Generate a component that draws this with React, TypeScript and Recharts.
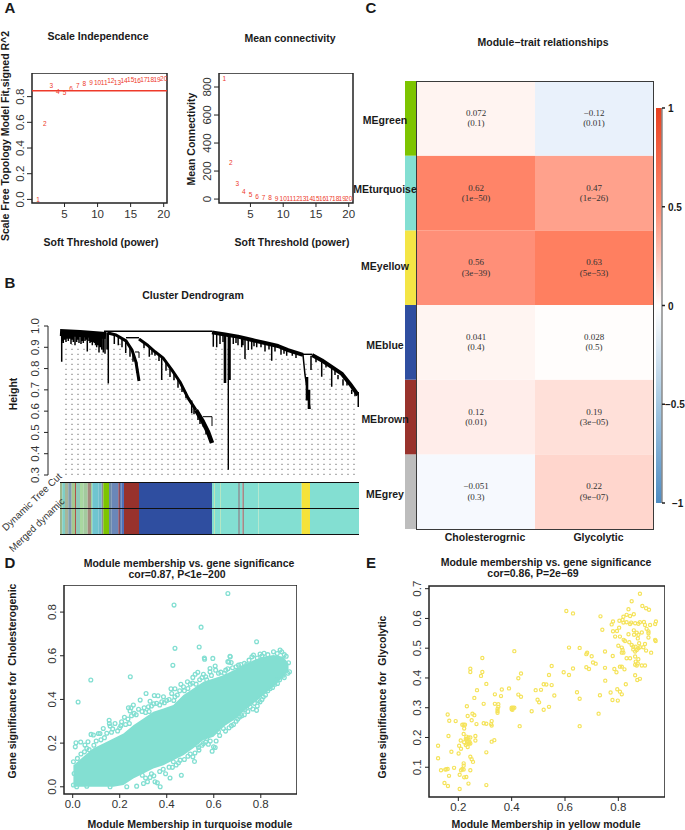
import React from "react";
import {
  Area,
  Bar,
  BarChart,
  ComposedChart,
  Line,
  ReferenceArea,
  ReferenceLine,
  Scatter,
  ScatterChart,
  XAxis,
  YAxis,
} from "recharts";

const SANS = '"Liberation Sans", Arial, sans-serif';
const SERIF = '"Liberation Serif", "Times New Roman", serif';
const RED = "#ee3a2a";
const TURQ = "#83dfd2";
const YELLOW = "#f5e35a";

// A: soft threshold
const powers = [1, 2, 3, 4, 5, 6, 7, 8, 9, 10, 11, 12, 13, 14, 15, 16, 17, 18, 19, 20];
const fitValues = [0.0, 0.59, 0.883, 0.842, 0.834, 0.862, 0.888, 0.901, 0.912, 0.909, 0.909, 0.922, 0.912, 0.925, 0.932, 0.922, 0.93, 0.932, 0.935, 0.943];
const connectivity = [862, 262, 110, 55, 31, 19, 12, 9, 7, 5, 5, 4, 4, 3, 3, 3, 2, 2, 2, 2];

// B: dendrogram, x is leaf rank along the tree, y is height
const guideRanks = [6, 12, 18, 24, 30, 36, 42, 48, 54, 60, 66, 72, 78, 84, 90, 96, 102, 108, 114, 120, 126, 132, 138, 144, 150, 156, 162, 168, 174, 180, 186, 192, 198, 204, 210, 216, 222, 228, 234, 240, 246, 252, 258, 264, 270, 276, 282, 288, 294];
const guideTops = [0.91, 0.915, 0.91, 0.91, 0.91, 0.905, 0.9, 0.9, 0.91, 0.92, 0.9, 0.85, 0.8, 0.89, 0.87, 0.855, 0.83, 0.8, 0.765, 0.72, 0.67, 0.625, 0.58, 0.51, 0.44, 0.91, 0.91, 0.91, 0.9, 0.89, 0.89, 0.885, 0.885, 0.875, 0.875, 0.86, 0.855, 0.85, 0.84, 0.83, 0.83, 0.825, 0.815, 0.8, 0.77, 0.745, 0.72, 0.69, 0.65];

const topBar = [{ rank: 44, h: 0.975 }, { rank: 152, h: 0.975 }];
const leftBand = [{ rank: 0, h: 0.97 }, { rank: 20, h: 0.965 }, { rank: 46, h: 0.955 }];
const midBranch = [{ rank: 48, h: 0.967 }, { rank: 56, h: 0.958 }, { rank: 66, h: 0.93 }, { rank: 72, h: 0.887 }, { rank: 76, h: 0.83 }, { rank: 79, h: 0.742 }];
const midBracket = [{ rank: 66, h: 0.945 }, { rank: 79, h: 0.945 }];
const smallBracket = [{ rank: 75, h: 0.878 }, { rank: 79, h: 0.878 }, { rank: 79, h: 0.85 }];
const longBranch = [{ rank: 79, h: 0.939 }, { rank: 88, h: 0.908 }, { rank: 95, h: 0.879 }, { rank: 103, h: 0.85 }, { rank: 112, h: 0.793 }, { rank: 120, h: 0.737 }, { rank: 128, h: 0.662 }, { rank: 136, h: 0.605 }];
const longBranchEnd = [{ rank: 136, h: 0.605 }, { rank: 142, h: 0.558 }, { rank: 148, h: 0.502 }, { rank: 152, h: 0.45 }];
const endBracket = [{ rank: 143, h: 0.574 }, { rank: 152, h: 0.574 }, { rank: 152, h: 0.53 }];
const rightBranch = [{ rank: 152, h: 0.97 }, { rank: 165, h: 0.96 }, { rank: 178, h: 0.95 }, { rank: 192, h: 0.934 }, { rank: 205, h: 0.92 }, { rank: 218, h: 0.906 }, { rank: 228, h: 0.887 }, { rank: 243, h: 0.864 }];
const rightBracket = [{ rank: 243, h: 0.867 }, { rank: 252, h: 0.867 }];
const rightDrop = [{ rank: 243, h: 0.864 }, { rank: 245, h: 0.77 }, { rank: 248, h: 0.68 }, { rank: 250, h: 0.61 }];
const tailBranch = [{ rank: 252, h: 0.864 }, { rank: 262, h: 0.838 }, { rank: 272, h: 0.807 }, { rank: 282, h: 0.775 }, { rank: 290, h: 0.728 }, { rank: 298, h: 0.676 }];
const tailDrop = [{ rank: 298.5, h: 0.69 }, { rank: 298.5, h: 0.62 }];
const longLeaf = [{ rank: 168.3, h: 0.96 }, { rank: 168.3, h: 0.325 }];

const leafRanks = [1.7, 2.5, 3.3, 4.5, 6, 7, 8.3, 9.5, 11, 12, 13.3, 15, 16.7, 18, 19, 21, 22, 23.3, 25, 26, 27.3, 29, 30, 31, 32.3, 33, 34.3, 35.5, 36.7, 38, 39, 40.5, 41.7, 43.3, 45, 47, 48.3, 54.3, 58.3, 62, 65.7, 70, 73, 76.7, 89.3, 95, 101.7, 110, 118, 131.7, 138, 143.3, 146, 149, 153.3, 156.7, 160, 173.3, 178, 181.7, 185, 188.3, 191.7, 196.7, 205, 211.7, 221, 226.7, 232.3, 251, 261.7, 271.7, 278, 283, 291.7, 84, 92, 99, 106, 114, 122, 126, 134, 140, 163, 176, 183, 194, 201, 209, 215, 224, 236, 256, 266, 275, 287, 295];
const leafTops = [0.97, 0.97, 0.97, 0.97, 0.97, 0.97, 0.97, 0.97, 0.97, 0.97, 0.97, 0.97, 0.97, 0.97, 0.97, 0.97, 0.97, 0.97, 0.97, 0.97, 0.97, 0.97, 0.97, 0.97, 0.97, 0.97, 0.97, 0.97, 0.97, 0.97, 0.97, 0.97, 0.97, 0.97, 0.97, 0.97, 0.975, 0.96, 0.95, 0.94, 0.93, 0.9, 0.87, 0.83, 0.9, 0.88, 0.85, 0.8, 0.75, 0.65, 0.6, 0.56, 0.53, 0.5, 0.97, 0.97, 0.965, 0.955, 0.95, 0.945, 0.94, 0.935, 0.935, 0.93, 0.92, 0.915, 0.9, 0.89, 0.88, 0.86, 0.84, 0.8, 0.77, 0.75, 0.7, 0.92, 0.89, 0.865, 0.83, 0.78, 0.72, 0.69, 0.62, 0.575, 0.965, 0.955, 0.945, 0.935, 0.925, 0.92, 0.91, 0.9, 0.875, 0.855, 0.83, 0.8, 0.75, 0.7];
const leafBottoms = [0.832, 0.93, 0.92, 0.935, 0.925, 0.94, 0.93, 0.94, 0.915, 0.935, 0.925, 0.91, 0.925, 0.935, 0.92, 0.915, 0.93, 0.92, 0.93, 0.935, 0.88, 0.93, 0.92, 0.925, 0.91, 0.925, 0.92, 0.91, 0.9, 0.91, 0.875, 0.9, 0.89, 0.875, 0.87, 0.89, 0.73, 0.915, 0.91, 0.9, 0.873, 0.856, 0.832, 0.78, 0.856, 0.86, 0.746, 0.76, 0.71, 0.59, 0.558, 0.527, 0.49, 0.47, 0.903, 0.9, 0.915, 0.915, 0.91, 0.9, 0.845, 0.887, 0.89, 0.9, 0.88, 0.837, 0.865, 0.86, 0.86, 0.793, 0.762, 0.715, 0.75, 0.72, 0.68, 0.895, 0.865, 0.835, 0.79, 0.745, 0.69, 0.66, 0.585, 0.54, 0.925, 0.92, 0.91, 0.905, 0.9, 0.89, 0.88, 0.87, 0.85, 0.83, 0.805, 0.77, 0.72, 0.67];
const thickLeafRanks = [165, 169.5, 247, 249];
const thickLeafTops = [0.96, 0.955, 0.76, 0.7];
const thickLeafBottoms = [0.732, 0.746, 0.65, 0.61];

// B: module colour strip, width of each stretch along the leaf order
const stripWidths = [2.3, 2.7, 3.3, 3.4, 3.3, 1, 4, 3.3, 4.4, 3.3, 1.3, 6, 3.4, 1.6, 5.7, 2.7, 6.6, 1.7, 1.7, 2.3, 15, 73, 2.3, 0.7, 5, 0.7, 17.3, 2, 2.3, 1.7, 14.3, 0.4, 43, 8.3, 49];
const stripColors = ["#9db88e", "#7fcfc5", "#a7b59a", "#7f9db0", "#a5c98d", "#b0504a", "#8fcab8", "#a9d7a0", "#a3ca9e", "#a68a7f", "#9fd3a0", "#6fc5cf", "#6fbccb", "#8d8d8d", "#7dc400", "#6e8ba6", "#6a87b8", "#8c4d5f", "#5f7fb4", "#4e6fb8", "#98322c", "#2f4ea0", "#83dfd2", "#b4de9f", "#83dfd2", "#b4de9f", "#83dfd2", "#8aa5a5", "#83dfd2", "#a08a88", "#83dfd2", "#b4de9f", "#83dfd2", "#f5e23a", "#83dfd2"];
const stripRows = ["Dynamic Tree Cut", "Merged dynamic"];

// C: module-trait table, top row first
const modules = ["MEgreen", "MEturquoise", "MEyellow", "MEblue", "MEbrown", "MEgrey"];
const moduleColors = ["#7dc400", "#83dfd2", "#f4e545", "#2f4ea0", "#98322c", "#bdbdbd"];
const traits = ["Cholesterogrnic", "Glycolytic"];
const cholCor = ["0.072", "0.62", "0.56", "0.041", "0.12", "\u22120.051"];
const cholP = ["(0.1)", "(1e\u221250)", "(3e\u221239)", "(0.4)", "(0.01)", "(0.3)"];
const cholFill = ["#fff4f1", "#ff8468", "#ff8f78", "#fff5f2", "#ffedea", "#f6f9fe"];
const glycCor = ["\u22120.12", "0.47", "0.63", "0.028", "0.19", "0.22"];
const glycP = ["(0.01)", "(1e\u221226)", "(5e\u221253)", "(0.5)", "(3e\u221205)", "(9e\u221207)"];
const glycFill = ["#e9f1fb", "#ffa18c", "#ff7f60", "#fffdfc", "#ffe0d9", "#ffd6cd"];
const colorbarTicks = [-1, -0.5, 0, 0.5, 1];

// D: dense core of the cloud (lower and upper edge) and the points that stand clear of it
const coreX = [0.003, 0.045, 0.088, 0.13, 0.173, 0.216, 0.258, 0.301, 0.343, 0.386, 0.428, 0.471, 0.513, 0.556, 0.599, 0.641, 0.684, 0.726, 0.769, 0.811, 0.854, 0.896, 0.918];
const coreLow = [0, 0, 0, 0, 0, 0.008, 0.038, 0.061, 0.084, 0.099, 0.122, 0.145, 0.176, 0.214, 0.229, 0.275, 0.305, 0.344, 0.382, 0.42, 0.458, 0.504, 0.534];
const coreHigh = [0.099, 0.137, 0.176, 0.198, 0.221, 0.244, 0.282, 0.313, 0.344, 0.359, 0.374, 0.42, 0.45, 0.481, 0.496, 0.511, 0.534, 0.557, 0.58, 0.595, 0.603, 0.595, 0.565];
const turquoisePoints = [
  [0.66, 0.885], [0.431, 0.832], [0.546, 0.731], [0.782, 0.664], [0.435, 0.634], [0.538, 0.64], [0.426, 0.556], [0.077, 0.489], [0.245, 0.504], [0.023, 0.388], [0.56, 0.59], [0.561, 0.584], [0.596, 0.588], [0.67, 0.595], [0.664, 0.571],
  [0.011, 0.183], [0.014, 0.202], [0.034, 0.205], [0.052, 0.191], [0.065, 0.206], [0.078, 0.24], [0.088, 0.237], [0.06, 0.176], [0.109, 0.244], [0.116, 0.244], [0.13, 0.267], [0.155, 0.305], [0.156, 0.29], [0.159, 0.278], [0.18, 0.29], [0.191, 0.256], [0.208, 0.298], [0.22, 0.318], [0.241, 0.29], [0.237, 0.362], [0.248, 0.362], [0.244, 0.347], [0.258, 0.374], [0.261, 0.336], [0.287, 0.397], [0.304, 0.362], [0.322, 0.366], [0.329, 0.392], [0.312, 0.427], [0.347, 0.418], [0.363, 0.417], [0.357, 0.382], [0.386, 0.412], [0.379, 0.389], [0.418, 0.449], [0.435, 0.449], [0.421, 0.427], [0.435, 0.412], [0.46, 0.469], [0.488, 0.481], [0.471, 0.458], [0.511, 0.501], [0.521, 0.515], [0.532, 0.524], [0.556, 0.515], [0.566, 0.504], [0.584, 0.542], [0.606, 0.553], [0.608, 0.534], [0.584, 0.527], [0.651, 0.534], [0.66, 0.573], [0.674, 0.569], [0.669, 0.598], [0.705, 0.557], [0.74, 0.56], [0.762, 0.595], [0.769, 0.603], [0.797, 0.608], [0.814, 0.611], [0.854, 0.618], [0.882, 0.626], [0.889, 0.618], [0.908, 0.598], [0.918, 0.568], [0.922, 0.527],
  [0.003, 0.008], [0.006, 0.061], [0.003, 0.115], [0.017, 0.0], [0.06, 0.003], [0.159, 0.0], [0.23, 0.0], [0.272, 0.003], [0.301, 0.015], [0.296, 0.053], [0.329, 0.043], [0.318, 0.023], [0.35, 0.023], [0.36, 0.018], [0.372, 0.0], [0.414, 0.04], [0.462, 0.053], [0.424, 0.089], [0.428, 0.115], [0.518, 0.116], [0.511, 0.137], [0.457, 0.122], [0.537, 0.168], [0.53, 0.191], [0.556, 0.198], [0.577, 0.195], [0.599, 0.183], [0.606, 0.18], [0.593, 0.163], [0.57, 0.221], [0.62, 0.252], [0.641, 0.267], [0.684, 0.285], [0.702, 0.31], [0.719, 0.325], [0.733, 0.354], [0.766, 0.356], [0.782, 0.35], [0.773, 0.382], [0.797, 0.389], [0.811, 0.412], [0.84, 0.45], [0.871, 0.473], [0.868, 0.489], [0.896, 0.511],
  [0.02, 0.13], [0.035, 0.15], [0.05, 0.16], [0.07, 0.17], [0.09, 0.19], [0.1, 0.21], [0.12, 0.215], [0.135, 0.225], [0.145, 0.245], [0.165, 0.25], [0.17, 0.265], [0.2, 0.27], [0.205, 0.28], [0.225, 0.285], [0.235, 0.31], [0.25, 0.325], [0.27, 0.33], [0.28, 0.355], [0.295, 0.345], [0.31, 0.34], [0.325, 0.345], [0.335, 0.37], [0.345, 0.38], [0.37, 0.375], [0.39, 0.385], [0.4, 0.395], [0.41, 0.4], [0.43, 0.395], [0.445, 0.42], [0.455, 0.44], [0.475, 0.44], [0.49, 0.45], [0.5, 0.47], [0.51, 0.475], [0.525, 0.47], [0.54, 0.49], [0.55, 0.5], [0.57, 0.49], [0.59, 0.51], [0.62, 0.52], [0.63, 0.525], [0.645, 0.52], [0.66, 0.54], [0.68, 0.545], [0.695, 0.55], [0.715, 0.56], [0.73, 0.565], [0.75, 0.58], [0.785, 0.59], [0.805, 0.6], [0.83, 0.605], [0.87, 0.61], [0.9, 0.605],
  [0.31, 0.04], [0.335, 0.06], [0.345, 0.05], [0.37, 0.07], [0.385, 0.08], [0.395, 0.06], [0.41, 0.09], [0.44, 0.1], [0.45, 0.11], [0.475, 0.125], [0.49, 0.14], [0.5, 0.15], [0.52, 0.155], [0.535, 0.18], [0.55, 0.19], [0.565, 0.205], [0.585, 0.21], [0.61, 0.21], [0.625, 0.235], [0.65, 0.255], [0.665, 0.27], [0.675, 0.28], [0.695, 0.3], [0.71, 0.32], [0.73, 0.33], [0.745, 0.345], [0.755, 0.365], [0.785, 0.37], [0.79, 0.395], [0.805, 0.4], [0.82, 0.42], [0.83, 0.44], [0.85, 0.455], [0.86, 0.47], [0.88, 0.49], [0.9, 0.5], [0.915, 0.52],
];

// E: yellow module genes
const yellowPoints = [
  [0.124, 0.172], [0.124, 0.13], [0.135, 0.09], [0.151, 0.092], [0.155, 0.093], [0.16, 0.094], [0.148, 0.047], [0.161, 0.037], [0.165, 0.071], [0.184, 0.098], [0.205, 0.075], [0.21, 0.09], [0.215, 0.094], [0.22, 0.092], [0.22, 0.105], [0.22, 0.113], [0.222, 0.066], [0.23, 0.067], [0.238, 0.045], [0.205, 0.027], [0.305, 0.04], [0.245, 0.09], [0.245, 0.135], [0.25, 0.127], [0.255, 0.118],
  [0.174, 0.152], [0.201, 0.146], [0.203, 0.172], [0.21, 0.162], [0.209, 0.19], [0.163, 0.205], [0.16, 0.277], [0.166, 0.256], [0.19, 0.255], [0.215, 0.243], [0.22, 0.243], [0.225, 0.243], [0.222, 0.23], [0.22, 0.212], [0.222, 0.184], [0.23, 0.203], [0.232, 0.195], [0.235, 0.188], [0.238, 0.2], [0.24, 0.18], [0.228, 0.195], [0.235, 0.168], [0.242, 0.185], [0.245, 0.2], [0.245, 0.18], [0.232, 0.18], [0.228, 0.175], [0.264, 0.205], [0.264, 0.19], [0.235, 0.272], [0.25, 0.258], [0.253, 0.28], [0.26, 0.275], [0.268, 0.245], [0.232, 0.305], [0.26, 0.333], [0.27, 0.359], [0.295, 0.313], [0.295, 0.248], [0.305, 0.246], [0.323, 0.245], [0.325, 0.24], [0.325, 0.255], [0.305, 0.15], [0.325, 0.186], [0.335, 0.191], [0.285, 0.407], [0.29, 0.42], [0.245, 0.431], [0.245, 0.42], [0.29, 0.467], [0.305, 0.38],
  [0.337, 0.345], [0.337, 0.313], [0.35, 0.312], [0.35, 0.303], [0.347, 0.296], [0.347, 0.289], [0.347, 0.283], [0.36, 0.339], [0.363, 0.361], [0.39, 0.365], [0.4, 0.295], [0.4, 0.3], [0.405, 0.3], [0.41, 0.3], [0.403, 0.293], [0.425, 0.399], [0.435, 0.415], [0.425, 0.344], [0.435, 0.337], [0.43, 0.238], [0.41, 0.49], [0.475, 0.288], [0.49, 0.359], [0.497, 0.327], [0.503, 0.318], [0.51, 0.36], [0.52, 0.293], [0.52, 0.379], [0.53, 0.378], [0.54, 0.303], [0.54, 0.41], [0.55, 0.376], [0.55, 0.44], [0.56, 0.341], [0.595, 0.419], [0.615, 0.41], [0.63, 0.432], [0.605, 0.625], [0.63, 0.617], [0.615, 0.502], [0.655, 0.501], [0.655, 0.238], [0.645, 0.352], [0.655, 0.33], [0.68, 0.436], [0.69, 0.43], [0.68, 0.48], [0.683, 0.485], [0.7, 0.473], [0.705, 0.452], [0.715, 0.448],
  [0.881, 0.683], [0.85, 0.658], [0.89, 0.642], [0.904, 0.634], [0.915, 0.629], [0.838, 0.631], [0.831, 0.612], [0.858, 0.614], [0.844, 0.608], [0.819, 0.606], [0.816, 0.595], [0.804, 0.592], [0.819, 0.586], [0.831, 0.587], [0.848, 0.586], [0.863, 0.584], [0.875, 0.582], [0.881, 0.587], [0.896, 0.588], [0.9, 0.578], [0.906, 0.565], [0.919, 0.578], [0.938, 0.581], [0.941, 0.59], [0.844, 0.581], [0.803, 0.569], [0.858, 0.56], [0.869, 0.552], [0.888, 0.553], [0.913, 0.556], [0.913, 0.55], [0.859, 0.545], [0.875, 0.545], [0.838, 0.547], [0.806, 0.539], [0.788, 0.539], [0.873, 0.533], [0.82, 0.528], [0.825, 0.524], [0.841, 0.52], [0.878, 0.517], [0.9, 0.514], [0.938, 0.528], [0.94, 0.524], [0.913, 0.536], [0.894, 0.503], [0.881, 0.503], [0.85, 0.511], [0.856, 0.505], [0.865, 0.505], [0.8, 0.508], [0.813, 0.502], [0.816, 0.494], [0.813, 0.485], [0.819, 0.485], [0.904, 0.492], [0.923, 0.485], [0.869, 0.494], [0.875, 0.5], [0.863, 0.489], [0.856, 0.496], [0.779, 0.474], [0.75, 0.489], [0.831, 0.466], [0.844, 0.466], [0.863, 0.472], [0.875, 0.463], [0.865, 0.455], [0.873, 0.449], [0.863, 0.444], [0.869, 0.442], [0.888, 0.442], [0.9, 0.442], [0.806, 0.438], [0.813, 0.438], [0.823, 0.429], [0.785, 0.43], [0.793, 0.419], [0.75, 0.434], [0.751, 0.391], [0.863, 0.409], [0.871, 0.393], [0.881, 0.397], [0.828, 0.379], [0.796, 0.362], [0.806, 0.354], [0.813, 0.345], [0.771, 0.351], [0.778, 0.326], [0.798, 0.324], [0.731, 0.342], [0.726, 0.28], [0.733, 0.607], [0.74, 0.562], [0.775, 0.58], [0.78, 0.59], [0.78, 0.557], [0.795, 0.558],
];

const asPoints = (pairs: number[][]) => pairs.map(([x, y]) => ({ x, y }));
// vertical stubs joined into one series, a null height breaks the line
const stubSeries = (ranks: number[], tops: number[], bottoms: number[]) =>
  ranks.flatMap((rank, i) => [
    { rank, h: tops[i] },
    { rank, h: bottoms[i] },
    { rank, h: null },
  ]);

const Txt = ({ x, y, size = 10.5, weight = 700, rotate = 0, color = "#1a1a1a", children }: any) => (
  <div
    style={{
      position: "absolute",
      left: x,
      top: y,
      transform: `translate(-50%, -50%) rotate(${rotate}deg)`,
      whiteSpace: "pre",
      fontFamily: SANS,
      fontSize: size,
      fontWeight: weight,
      color,
      lineHeight: 1,
      zIndex: 6,
    }}
  >
    {children}
  </div>
);

const Panel = ({ x, y, z, children }: any) => (
  <div style={{ position: "absolute", left: x, top: y, zIndex: z }}>{children}</div>
);

const Rule = ({ x, y, w }: any) => (
  <div style={{ position: "absolute", left: x, top: y, width: w, height: 1.5, background: "#111", zIndex: 3 }} />
);

const RotTick = ({ x, y, payload, fmt }: any) => (
  <text
    x={x}
    y={y}
    transform={`rotate(-90 ${x} ${y})`}
    textAnchor="middle"
    fontFamily={SANS}
    fontSize={11.5}
    fill="#333"
  >
    {fmt ? fmt(payload.value) : payload.value}
  </text>
);

const tickStyle = { fontFamily: SANS, fontSize: 11.5, fill: "#333" };
const axisLineStyle = { stroke: "#222", strokeWidth: 1 };
const oneDec = (v: number) => v.toFixed(1);

const PowerLabel = ({ cx, cy, payload }: any) => (
  <text x={cx} y={cy + 2.5} textAnchor="middle" fontFamily={SANS} fontSize={6.5} fill={RED}>
    {payload.power}
  </text>
);

const Ring = (color: string, r: number, w: number) => ({ cx, cy }: any) => (
  <circle cx={cx} cy={cy} r={r} fill="none" stroke={color} strokeWidth={w} />
);

const fitData = powers.map((power, i) => ({ power, value: fitValues[i] }));
const connData = powers.map((power, i) => ({ power, value: connectivity[i] }));

const SoftChart = ({ width, data, yDomain, yTicks, fmt, xDomain, children }: any) => (
  <ScatterChart width={width} height={160} margin={{ top: 0, right: 12, bottom: 0, left: 0 }}>
    <XAxis dataKey="power" type="number" domain={xDomain} ticks={[5, 10, 15, 20]} interval={0} allowDataOverflow height={30} axisLine={false} tick={tickStyle} tickLine={axisLineStyle} tickSize={4} tickMargin={3} />
    <YAxis dataKey="value" type="number" domain={yDomain} ticks={yTicks} interval={0} allowDataOverflow width={32} axisLine={false} tick={<RotTick fmt={fmt} />} tickLine={axisLineStyle} tickSize={5} tickMargin={3} />
    <ReferenceArea x1={xDomain[0]} x2={xDomain[1]} y1={yDomain[0]} y2={yDomain[1]} fill="none" stroke="#222" strokeWidth={1.5} />
    {children}
    <Scatter data={data} isAnimationActive={false} shape={PowerLabel} />
  </ScatterChart>
);

const DendroLine = (points: any[], w: number, key: string) => (
  <Line
    key={key}
    data={points}
    dataKey="h"
    type="linear"
    stroke="#000"
    strokeWidth={w}
    dot={false}
    activeDot={false}
    isAnimationActive={false}
    strokeLinejoin="round"
  />
);

const Dendrogram = () => (
  <ComposedChart width={359} height={165} margin={{ top: 8, right: 0, bottom: 8, left: 0 }}>
    <XAxis dataKey="rank" type="number" domain={[-12, 299]} hide allowDataOverflow />
    <YAxis dataKey="h" type="number" domain={[0.3, 1]} ticks={[0.3, 0.4, 0.5, 0.6, 0.7, 0.8, 0.9, 1]} interval={0} allowDataOverflow width={48} axisLine={axisLineStyle} tick={<RotTick fmt={oneDec} />} tickLine={axisLineStyle} tickSize={4} tickMargin={5} />
    {guideRanks.map((rank, i) => (
      <ReferenceLine
        key={rank}
        segment={[{ x: rank, y: 0.3 }, { x: rank, y: guideTops[i] }]}
        stroke="#777"
        strokeWidth={1.1}
        strokeDasharray="1.2 3.8"
      />
    ))}
    {DendroLine(topBar, 1.6, "top")}
    {DendroLine(leftBand, 7, "left")}
    {DendroLine(midBranch, 3, "mid")}
    {DendroLine(midBracket, 1.4, "midb")}
    {DendroLine(smallBracket, 1, "smallb")}
    {DendroLine(longBranch, 3, "long")}
    {DendroLine(longBranchEnd, 4.5, "longend")}
    {DendroLine(endBracket, 1, "endb")}
    {DendroLine(rightBranch, 4, "right")}
    {DendroLine(rightBracket, 1.4, "rightb")}
    {DendroLine(rightDrop, 1.5, "rightd")}
    {DendroLine(tailBranch, 4, "tail")}
    {DendroLine(tailDrop, 2, "taild")}
    {DendroLine(longLeaf, 1.4, "longleaf")}
    {DendroLine(stubSeries(leafRanks, leafTops, leafBottoms), 1.5, "leaves")}
    {DendroLine(stubSeries(thickLeafRanks, thickLeafTops, thickLeafBottoms), 2.6, "thick")}
  </ComposedChart>
);

const stripData = stripRows.map((row) => {
  const out: any = { row };
  stripWidths.forEach((w, i) => {
    out[`s${i}`] = w;
  });
  return out;
});

const ColourStrip = () => (
  <BarChart layout="vertical" width={299} height={52} data={stripData} barCategoryGap={0} margin={{ top: 0, right: 0, bottom: 0, left: 0 }}>
    <XAxis type="number" domain={[0, 299]} hide allowDataOverflow />
    <YAxis type="category" dataKey="row" hide />
    {stripWidths.map((_, i) => (
      <Bar key={i} dataKey={`s${i}`} stackId="m" fill={stripColors[i]} isAnimationActive={false} />
    ))}
  </BarChart>
);

// stack runs bottom-up, so the last module goes first
const stackOrder = [5, 4, 3, 2, 1, 0];
const heatData = traits.map((trait) => {
  const out: any = { trait };
  modules.forEach((m) => {
    out[m] = 1;
  });
  return out;
});

const cellText = (mod: number) => (props: any) => {
  const { x, y, width, height, index } = props;
  const cor = index === 0 ? cholCor[mod] : glycCor[mod];
  const p = index === 0 ? cholP[mod] : glycP[mod];
  const cx = x + width / 2;
  const cy = y + height / 2;
  return (
    <g>
      <rect x={x} y={y} width={width} height={height} fill={index === 0 ? cholFill[mod] : glycFill[mod]} />
      <text x={cx} y={cy - 2.5} textAnchor="middle" fontFamily={SERIF} fontSize={9} fill="#333">{cor}</text>
      <text x={cx} y={cy + 8} textAnchor="middle" fontFamily={SERIF} fontSize={9} fill="#333">{p}</text>
    </g>
  );
};

const TraitTick = ({ x, y, payload, index }: any) => (
  <text x={x + (index === 0 ? 9 : 4.5)} y={y + 4} textAnchor="middle" fontFamily={SANS} fontSize={10.5} fontWeight={700} fill="#1a1a1a">
    {payload.value}
  </text>
);

const Heatmap = () => (
  <BarChart width={236} height={468} data={heatData} barCategoryGap={0} margin={{ top: 0, right: 0, bottom: 0, left: 0 }}>
    <XAxis dataKey="trait" height={20} axisLine={false} tickLine={false} tick={<TraitTick />} interval={0} />
    <YAxis type="number" domain={[0, 6]} hide allowDataOverflow />
    {stackOrder.map((mod) => (
      <Bar key={modules[mod]} dataKey={modules[mod]} stackId="t" isAnimationActive={false} shape={cellText(mod)} />
    ))}
  </BarChart>
);

const moduleBar = [{ strip: "module", ...Object.fromEntries(modules.map((m) => [m, 1])) }];
const moduleLabelNudge = [2, -4, -2, 3, 2, 2.5];

const ModuleTick = ({ y, payload }: any) => {
  const idx = 5 - Math.floor(payload.value);
  return (
    <text x={39} y={y + 4 + moduleLabelNudge[idx]} textAnchor="middle" fontFamily={SANS} fontSize={10.5} fontWeight={700} fill="#1a1a1a">
      {modules[idx]}
    </text>
  );
};

const ModuleStrip = () => (
  <BarChart width={80} height={448} data={moduleBar} barCategoryGap={0} margin={{ top: 0, right: 10, bottom: 0, left: 0 }}>
    <XAxis dataKey="strip" hide />
    <YAxis type="number" domain={[0, 6]} ticks={[0.5, 1.5, 2.5, 3.5, 4.5, 5.5]} width={59} axisLine={false} tickLine={false} tick={<ModuleTick />} interval={0} />
    {stackOrder.map((mod) => (
      <Bar key={modules[mod]} dataKey={modules[mod]} stackId="m" fill={moduleColors[mod]} isAnimationActive={false} />
    ))}
  </BarChart>
);

const barTickNudge = (v: number) => (v === -0.5 ? -3 : v === -1 ? 4 : 0);

const ColorBarTick = ({ x, y, payload }: any) => (
  <text x={x + barTickNudge(payload.value)} y={y + 4} textAnchor="start" fontFamily={SANS} fontSize={10} fontWeight={700} fill="#1a1a1a">
    {payload.value < 0 ? `\u2212${Math.abs(payload.value)}` : payload.value}
  </text>
);

const ColorBar = () => (
  <BarChart width={45} height={411} data={[{ name: "r", range: [-1, 1] }]} barCategoryGap={0} margin={{ top: 8, right: 0, bottom: 8, left: 0 }}>
    <defs>
      <linearGradient id="corrGrad" x1="0" y1="0" x2="0" y2="1">
        <stop offset="0%" stopColor="#e8401f" />
        <stop offset="25%" stopColor="#ff8b70" />
        <stop offset="50%" stopColor="#ffffff" />
        <stop offset="75%" stopColor="#a6c8e2" />
        <stop offset="100%" stopColor="#4f8cc3" />
      </linearGradient>
    </defs>
    <XAxis dataKey="name" hide />
    <YAxis
      orientation="right"
      type="number"
      domain={[-1, 1]}
      ticks={colorbarTicks}
      width={39}
      interval={0}
      axisLine={{ stroke: "#8a8a8a", strokeWidth: 1.5 }}
      tickLine={{ stroke: "#222", strokeWidth: 1.5 }}
      tickSize={3}
      tickMargin={3}
      tick={<ColorBarTick />}
    />
    <Bar dataKey="range" fill="url(#corrGrad)" isAnimationActive={false} />
  </BarChart>
);

const coreData = coreX.map((x, i) => ({ x, core: [coreLow[i], coreHigh[i]] }));

const ModuleD = () => (
  <ComposedChart width={297} height={235} data={coreData} margin={{ top: 0, right: 0, bottom: 0, left: 0 }}>
    <XAxis dataKey="x" type="number" domain={[-0.037, 0.954]} ticks={[0, 0.2, 0.4, 0.6, 0.8]} interval={0} tickFormatter={oneDec} allowDataOverflow height={26} axisLine={false} tick={tickStyle} tickLine={axisLineStyle} tickSize={4} tickMargin={2} />
    <YAxis type="number" domain={[-0.033, 0.924]} ticks={[0, 0.2, 0.4, 0.6, 0.8]} interval={0} allowDataOverflow width={64} axisLine={false} tick={<RotTick fmt={oneDec} />} tickLine={axisLineStyle} tickSize={4} tickMargin={4} />
    <Area dataKey="core" type="linear" fill={TURQ} fillOpacity={1} stroke="none" dot={false} activeDot={false} isAnimationActive={false} />
    <Scatter data={asPoints(turquoisePoints)} dataKey="y" isAnimationActive={false} shape={Ring(TURQ, 1.9, 1.3)} />
    <ReferenceArea x1={-0.037} x2={0.954} y1={-0.033} y2={0.924} fill="none" stroke="#222" strokeWidth={1.5} />
  </ComposedChart>
);

const ModuleE = () => (
  <ScatterChart width={320} height={249} margin={{ top: 10, right: 0, bottom: 0, left: 0 }}>
    <XAxis dataKey="x" type="number" domain={[0.09, 0.975]} ticks={[0.2, 0.4, 0.6, 0.8]} interval={0} tickFormatter={oneDec} allowDataOverflow height={28} axisLine={false} tick={tickStyle} tickLine={axisLineStyle} tickSize={4} tickMargin={2} />
    <YAxis dataKey="y" type="number" domain={[0, 0.709]} ticks={[0.1, 0.2, 0.3, 0.4, 0.5, 0.6, 0.7]} interval={0} allowDataOverflow width={84} axisLine={false} tick={<RotTick fmt={oneDec} />} tickLine={axisLineStyle} tickSize={4} tickMargin={4} />
    <Scatter data={asPoints(yellowPoints)} isAnimationActive={false} shape={Ring(YELLOW, 1.6, 1.2)} />
    <ReferenceArea x1={0.09} x2={0.975} y1={0} y2={0.709} fill="none" stroke="#222" strokeWidth={1.5} />
  </ScatterChart>
);

export default function App() {
  return (
    <div style={{ position: "absolute", left: 0, top: 0, width: 685, height: 830, background: "#fff", overflow: "hidden" }}>
      <Txt x={10} y={7} size={15} weight={900}>A</Txt>
      <Txt x={371} y={7} size={15} weight={900}>C</Txt>
      <Txt x={10} y={282} size={15} weight={900}>B</Txt>
      <Txt x={10} y={562} size={15} weight={900}>D</Txt>
      <Txt x={371} y={562} size={15} weight={900}>E</Txt>

      <Txt x={98} y={36}>Scale Independence</Txt>
      <Txt x={290} y={38}>Mean connectivity</Txt>
      <Txt x={101} y={242}>Soft Threshold (power)</Txt>
      <Txt x={292} y={242}>Soft Threshold (power)</Txt>
      <Txt x={5} y={136} rotate={-90}>Scale Free Topology Model Fit,signed R^2</Txt>
      <Txt x={191} y={139} rotate={-90}>Mean Connectivity</Txt>

      <Panel x={0} y={73}>
        <SoftChart width={179} data={fitData} xDomain={[0.08, 20.5]} yDomain={[-0.028, 0.984]} yTicks={[0, 0.2, 0.4, 0.6, 0.8]} fmt={oneDec}>
          <ReferenceLine y={0.846} stroke={RED} strokeWidth={1.4} />
        </SoftChart>
      </Panel>
      <Panel x={187} y={73}>
        <SoftChart width={178} data={connData} xDomain={[0.2, 20.65]} yDomain={[-28, 900]} yTicks={[0, 200, 400, 600, 800]} />
      </Panel>

      <Txt x={193} y={295}>Cluster Dendrogram</Txt>
      <Txt x={13} y={394} rotate={-90}>Height</Txt>
      <Panel x={0} y={318}>
        <Dendrogram />
      </Panel>
      <Panel x={60} y={482}>
        <ColourStrip />
      </Panel>
      <Rule x={60} y={481.5} w={299} />
      <Rule x={60} y={507.5} w={299} />
      <Rule x={60} y={533.5} w={299} />
      <Txt x={32} y={502} size={9.8} weight={400} rotate={-44} color="#333">Dynamic Tree Cut</Txt>
      <Txt x={37} y={525} size={9.8} weight={400} rotate={-44} color="#333">Merged dynamic</Txt>

      <Txt x={543} y={42}>{"Module\u2212trait relationships"}</Txt>
      <Panel x={417} y={81}>
        <Heatmap />
      </Panel>
      <div style={{ position: "absolute", left: 416, top: 81, width: 236, height: 447, border: "1.5px solid #3a3a3a", zIndex: 3 }} />
      <Panel x={346} y={81} z={4}>
        <ModuleStrip />
      </Panel>
      <Panel x={656} y={100}>
        <ColorBar />
      </Panel>

      <Txt x={189} y={563}>Module membership vs. gene significance</Txt>
      <Txt x={177} y={574}>{"cor=0.87, P<1e\u2212200"}</Txt>
      <Txt x={12} y={681} rotate={-90}>{"Gene significance for  Cholesterogenic"}</Txt>
      <Txt x={190} y={824}>Module Membership in turquoise module</Txt>
      <Panel x={0} y={585}>
        <ModuleD />
      </Panel>

      <Txt x={546} y={562}>Module membership vs. gene significance</Txt>
      <Txt x={533} y={573}>{"cor=0.86, P=2e\u221269"}</Txt>
      <Txt x={382} y={697} rotate={-90}>{"Gene significance for  Glycolytic"}</Txt>
      <Txt x={546} y={824}>Module Membership in yellow module</Txt>
      <Panel x={345} y={576}>
        <ModuleE />
      </Panel>
    </div>
  );
}
